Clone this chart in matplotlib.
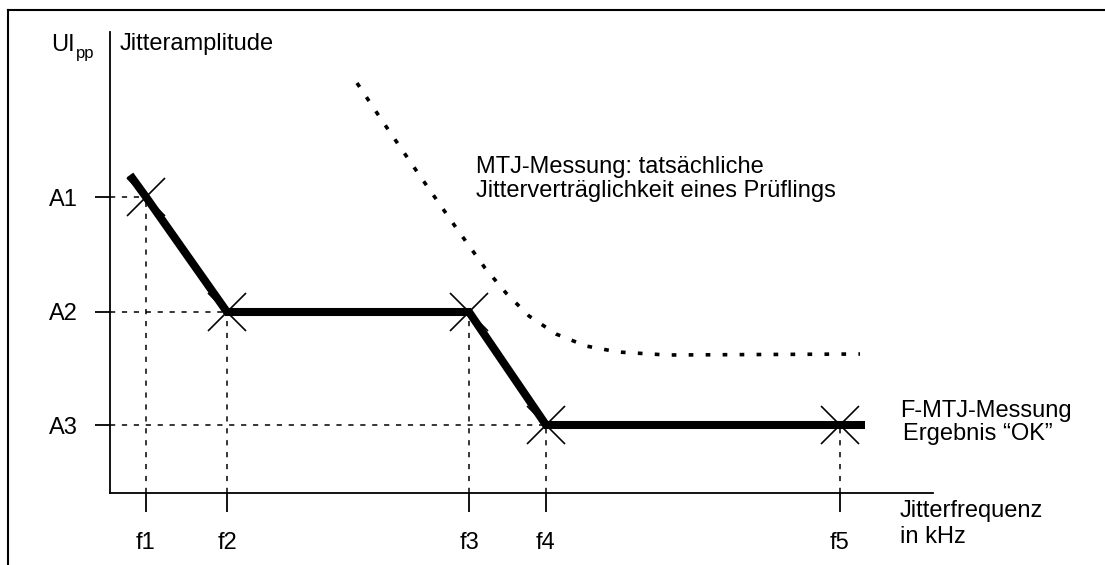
"""Jitter tolerance sketch: F-MTJ mask points vs. measured MTJ curve."""

import matplotlib

matplotlib.use("Agg")

import matplotlib.pyplot as plt  # noqa: E402
from matplotlib.lines import Line2D  # noqa: E402

plt.rcParams["font.family"] = ["Liberation Sans", "DejaVu Sans"]

# mask corner points (arbitrary units)
freq_labels = ["f1", "f2", "f3", "f4", "f5"]
freq_pos = [3.6, 11.7, 35.9, 43.6, 73.0]
amp_labels = ["A1", "A2", "A3"]
amp_pos = [29.6, 18.1, 6.8]

# F-MTJ result path (thick line) and its measured points (crosses)
mask_x = [2.0, 3.6, 11.7, 35.9, 43.6, 75.5]
mask_y = [31.8, 29.6, 18.1, 18.1, 6.8, 6.8]
point_x = [3.6, 11.7, 35.9, 43.6, 73.0]
point_y = [29.6, 18.1, 18.1, 6.8, 6.8]

# MTJ curve: actual jitter tolerance of the device under test
mtj_x = [24.7, 27.3, 31.0, 34.7, 37.5, 39.6, 41.9, 44.6, 47.6, 50.8, 55.7, 75.0]
mtj_y = [41.0, 37.1, 31.7, 26.4, 22.5, 20.0, 17.7, 15.9, 14.7, 14.1, 13.8, 13.9]

W, H = 1105, 565
FS = 17

fig = plt.figure(figsize=(W / 100, H / 100), dpi=100)
fig.patch.set_facecolor("white")

# axes box in pixel terms: x 110..933, y 32..493
ax = fig.add_axes([110 / W, (H - 493) / H, (933 - 110) / W, (493 - 32) / H])
ax.set_xlim(0, 82.3)
ax.set_ylim(0, 46.1)
for side in ("top", "right"):
    ax.spines[side].set_visible(False)
for side in ("left", "bottom"):
    ax.spines[side].set_linewidth(1.3)

ax.set_xticks(freq_pos, freq_labels)
ax.set_yticks(amp_pos, amp_labels)
ax.tick_params(axis="x", direction="out", length=13.5, width=1.3, pad=14.5, labelsize=FS)
ax.tick_params(axis="y", direction="out", length=11, width=1.3, pad=12, labelsize=FS)

# dashed guides from the crosses to the axes
guide = dict(color="black", lw=1.1, dashes=(3.4, 4.4), zorder=1)
for x, y in zip(point_x, point_y):
    ax.plot([x, x], [0, y], **guide)
for x, y in zip([3.6, 11.7, 43.6], amp_pos):
    ax.plot([0, x], [y, y], **guide)

ax.plot(mask_x, mask_y, color="black", lw=5.8, solid_capstyle="butt",
        solid_joinstyle="miter", zorder=3)
ax.plot(point_x, point_y, ls="none", marker="x", ms=27, mew=1.2,
        color="black", zorder=4)

ax.plot(mtj_x, mtj_y, color="black", lw=2.6, dashes=(1.3, 3.4), zorder=2)

ax.text(36.6, 31.4, "MTJ-Messung: tatsächliche\nJitterverträglichkeit eines Prüflings",
        fontsize=FS, va="center", ha="left", linespacing=1.12)

# labels outside the axes, placed in figure pixels
def fig_text(px, py, s, size=FS, **kw):
    fig.text(px / W, 1 - py / H, s, fontsize=size, **kw)


fig_text(51, 45, "UI", va="center", ha="left")
fig_text(76, 58, "pp", size=12, va="baseline", ha="left")
fig_text(120, 44, "Jitteramplitude", va="center", ha="left")
fig_text(900, 411, "F-MTJ-Messung", va="center", ha="left")
fig_text(903, 434, "Ergebnis \u201cOK\u201d", va="center", ha="left")
fig_text(900, 511, "Jitterfrequenz", va="center", ha="left")
fig_text(900, 537, "in kHz", va="center", ha="left")

# outer frame: top and left edge only
fig.add_artist(Line2D([8 / W, 1], [1 - 10 / H, 1 - 10 / H], color="black", lw=1.5,
                      transform=fig.transFigure))
fig.add_artist(Line2D([8 / W, 8 / W], [0, 1 - 10 / H], color="black", lw=1.5,
                      transform=fig.transFigure))

fig.savefig("out.png", dpi=100, facecolor=fig.get_facecolor())
